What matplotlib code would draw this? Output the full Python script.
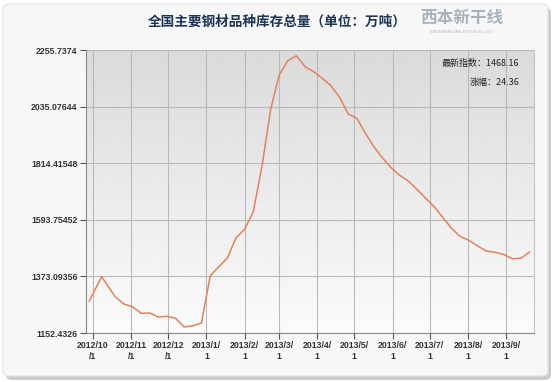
import numpy as np
import pandas as pd
import matplotlib
matplotlib.use("Agg")
import matplotlib.pyplot as plt
from matplotlib.patches import FancyBboxPatch

plt.rcParams['font.family'] = ['Noto Sans CJK SC', 'DejaVu Sans']

# weekly inventory, 10k tonnes
dates = [
    "2012-09-28", "2012-10-08", "2012-10-19", "2012-10-26", "2012-11-02", "2012-11-09",
    "2012-11-16", "2012-11-23", "2012-11-30", "2012-12-07", "2012-12-14", "2012-12-21",
    "2012-12-28", "2013-01-04", "2013-01-11", "2013-01-18", "2013-01-25", "2013-02-01",
    "2013-02-08", "2013-02-15", "2013-02-22", "2013-03-01", "2013-03-08", "2013-03-15",
    "2013-03-22", "2013-03-29", "2013-04-05", "2013-04-12", "2013-04-19", "2013-04-26",
    "2013-05-03", "2013-05-10", "2013-05-17", "2013-05-24", "2013-05-31", "2013-06-07",
    "2013-06-14", "2013-06-21", "2013-06-28", "2013-07-05", "2013-07-12", "2013-07-19",
    "2013-07-26", "2013-08-02", "2013-08-09", "2013-08-16", "2013-08-23", "2013-08-30",
    "2013-09-06", "2013-09-13", "2013-09-20",
]
values = [
    1277.2, 1371.9, 1293.9, 1265.5, 1254.9, 1229.2,
    1230.4, 1214.8, 1217.5, 1209.7, 1175.8, 1180.9,
    1191.4, 1374.6, 1410.8, 1444.8, 1523.9, 1556.6,
    1625.2, 1800.7, 2021.7, 2158.1, 2213.9, 2233.4,
    2190.5, 2171.0, 2145.2, 2116.4, 2071.2, 2006.1,
    1989.3, 1930.1, 1877.4, 1833.4, 1795.6, 1766.3,
    1744.1, 1711.0, 1676.7, 1643.5, 1600.7, 1559.7,
    1527.8, 1513.7, 1491.5, 1472.0, 1467.0, 1459.2,
    1441.6, 1443.80, 1468.16,
]

y_ticks = [1152.4326, 1373.09356, 1593.75452, 1814.41548, 2035.07644, 2255.7374]
y_tick_labels = ["1152.4326", "1373.09356", "1593.75452", "1814.41548",
                 "2035.07644", "2255.7374"]
x_tick_dates = ["2012-10-01", "2012-11-01", "2012-12-01", "2013-01-01", "2013-02-01",
                "2013-03-01", "2013-04-01", "2013-05-01", "2013-06-01", "2013-07-01",
                "2013-08-01", "2013-09-01"]
x_tick_labels = ["2012/10\n/1", "2012/11\n/1", "2012/12\n/1", "2013/1/\n1", "2013/2/\n1",
                 "2013/3/\n1", "2013/4/\n1", "2013/5/\n1", "2013/6/\n1", "2013/7/\n1",
                 "2013/8/\n1", "2013/9/\n1"]

title = "全国主要钢材品种库存总量（单位：万吨）"
latest_text = "最新指数：1468.16"
change_text = "涨幅：24.36"

W, H = 558, 382
fig = plt.figure(figsize=(W / 100, H / 100), dpi=100)
fig.patch.set_facecolor("white")

# card with shadow
shadow = FancyBboxPatch((6 / W, 2 / H), 545 / W, 372 / H,
                        boxstyle="round,pad=0,rounding_size=0.012",
                        transform=fig.transFigure, facecolor="#cbcbcb",
                        edgecolor="none", zorder=-2)
card = FancyBboxPatch((3 / W, 6 / H), 545 / W, 372 / H,
                      boxstyle="round,pad=0,rounding_size=0.012",
                      transform=fig.transFigure, facecolor="#f7f7f7",
                      edgecolor="#e2e2e2", linewidth=0.8, zorder=-1)
fig.patches.extend([shadow, card])

ax = fig.add_axes([86 / W, 1 - 333 / H, 448 / W, 283 / H])
ax.set_zorder(1)

# vertical gradient in the plot area
grad = np.linspace(0.985, 0.855, 256).reshape(-1, 1)
ax.imshow(grad, extent=[0, 1, 0, 1], transform=ax.transAxes, aspect="auto",
          cmap="gray", vmin=0, vmax=1, origin="lower", zorder=0)

x = pd.to_datetime(dates)
ax.plot(x, values, color="#e3825a", linewidth=1.1, zorder=3)

ax.set_xlim(pd.Timestamp("2012-09-25 08:00"), pd.Timestamp("2013-09-23 16:00"))
ax.set_ylim(y_ticks[0], y_ticks[-1])
ax.set_yticks(y_ticks)
ax.set_yticklabels(y_tick_labels)
ax.set_xticks(pd.to_datetime(x_tick_dates))
ax.set_xticklabels(x_tick_labels)

ax.grid(True, color="#b9b9b9", linewidth=0.8, zorder=1)
ax.set_axisbelow(False)
for s in ax.spines.values():
    s.set_color("#c4c4c4")
    s.set_linewidth(0.8)
ax.spines["left"].set_color("#8a8a8a")
ax.spines["bottom"].set_color("#8a8a8a")
ax.tick_params(axis="both", length=4, width=0.8, color="#555555",
               labelsize=6.3, labelcolor="#333333", pad=2)
for lab in ax.get_xticklabels() + ax.get_yticklabels():
    lab.set_family(["Liberation Sans", "DejaVu Sans"])
    lab.set_fontweight("bold")
for lab in ax.get_xticklabels():
    lab.set_linespacing(1.3)

fig.text(277 / W, 1 - 22 / H, title, ha="center", va="center", fontsize=9.8,
         fontweight="bold", color="#1d3655")
# logo watermark
fig.text(462 / W, 1 - 18 / H, "西本新干线", ha="center", va="center", fontsize=12,
         color="#a9b2bc", fontweight="bold")
fig.text(462 / W, 1 - 31 / H, "XIBEN NEW LINE STOCK CO.,LTD.", ha="center",
         va="center", fontsize=3, color="#a9b2bc")

ax.text(519 / W, 1 - 63 / H, latest_text, transform=fig.transFigure, ha="right",
        va="center", fontsize=6.5, color="#222222", zorder=5)
ax.text(519 / W, 1 - 82 / H, change_text, transform=fig.transFigure, ha="right",
        va="center", fontsize=6.5, color="#222222", zorder=5)

fig.savefig("out.png", dpi=100)
